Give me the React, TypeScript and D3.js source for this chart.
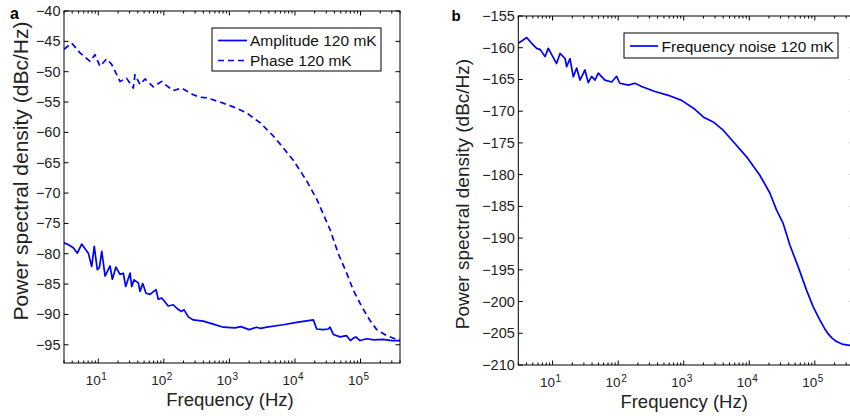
import React from "react";
import * as d3 from "d3";

// ---------- data ----------
const ampFreq = [3, 3.49, 4.16, 4.79, 5.58, 7.05, 7.94, 8.69, 9.66, 10.4, 11.3, 12.7, 15.1, 16.4, 18.6, 21.4, 24.1, 26.2, 30.5, 32.4, 35.1, 40.8, 43.3, 47.6, 53.5, 61.5, 75.9, 82.3, 92.7, 117, 139, 166, 187, 203, 236, 281, 400, 568, 807, 1217, 1500, 2000, 2600, 3000, 3707, 6637, 10620, 19050, 21460, 27040, 32240, 34230, 38460, 48650, 61480, 70000, 77640, 85000, 98150, 124200, 160000, 222300, 300000, 400000];
const ampDb = [-78.2, -78.5, -79.0, -79.9, -78.4, -79.9, -82.1, -78.8, -82.6, -82.3, -79.6, -83.7, -82.0, -84.2, -82.2, -83.4, -83.2, -85.4, -83.2, -85.4, -84.3, -84.8, -86.2, -84.9, -86.5, -86.7, -85.9, -87.5, -87.3, -88.6, -88.4, -89.2, -89.5, -89.2, -90.4, -90.9, -91.1, -91.6, -92.1, -92.2, -92.0, -92.5, -92.1, -92.3, -92.1, -91.7, -91.3, -90.9, -92.4, -92.5, -92.4, -92.1, -93.3, -93.7, -93.5, -94.3, -93.9, -93.7, -94.3, -94.0, -94.2, -94.1, -94.3, -94.3];

const phaseFreq = [3, 3.93, 5.26, 7.48, 8.91, 10.6, 13.4, 16.0, 18.0, 21.4, 27.1, 30.5, 34.2, 36.3, 43.3, 51.6, 69.1, 92.7, 110, 139, 187, 281, 356, 451, 719, 1147, 1836, 2931, 3707, 4670, 5905, 9436, 15100, 21460, 34230, 45810, 61480, 77640, 104200, 139400, 176500, 250700, 335500, 400000];
const phaseDb = [-46.3, -45.3, -46.9, -48.3, -47.2, -49.1, -47.9, -48.8, -49.9, -51.6, -51.1, -51.9, -52.7, -50.5, -52.1, -51.2, -52.5, -51.6, -52.3, -53.1, -52.7, -53.8, -54.2, -54.3, -55.0, -55.8, -56.8, -58.4, -59.5, -60.6, -61.9, -64.6, -68.0, -71.0, -76.0, -80.0, -83.2, -86.0, -88.7, -91.0, -92.5, -93.5, -94.0, -94.1];

const freqNoiseFreq = [3, 4.03, 4.8, 5.72, 6.5, 7.66, 8.6, 9.69, 11.5, 13.0, 15.5, 16.4, 18.4, 20.7, 23.3, 26.2, 31.2, 35.0, 39.4, 44.3, 49.8, 62.9, 79.6, 94.8, 106, 143, 180, 228, 364, 581, 929, 1483, 1983, 2818, 4000, 6030, 9100, 14500, 20600, 26100, 32900, 41600, 55600, 74700, 94200, 119000, 140000, 160000, 185000, 214000, 260000, 341000, 400000];
const freqNoiseDb = [-159.3, -158.4, -159.3, -160.1, -160.3, -161.4, -160.1, -161.1, -162.5, -160.9, -161.7, -163.0, -161.7, -164.6, -163.2, -165.1, -163.5, -165.5, -164.5, -165.1, -164.0, -165.1, -165.4, -164.5, -165.6, -165.9, -165.6, -166.1, -166.9, -167.5, -168.3, -169.7, -170.9, -171.7, -173.0, -175.1, -177.2, -180.1, -182.9, -185.6, -187.7, -191.1, -194.5, -198.2, -200.8, -202.9, -204.2, -205.1, -205.8, -206.3, -206.7, -206.9, -207.0];

const xDomain = [3, 4e5];
const xMajorTicks = [10, 100, 1000, 10000, 100000];
const xTickExponents = ["1", "2", "3", "4", "5"];
const yDomainA = [-98, -40];
const yTicksA = [-95, -90, -85, -80, -75, -70, -65, -60, -55, -50, -45, -40];
const yDomainB = [-210, -155];
const yTicksB = [-210, -205, -200, -195, -190, -185, -180, -175, -170, -165, -160, -155];

const legendA = ["Amplitude 120 mK", "Phase 120 mK"];
const legendB = ["Frequency noise 120 mK"];
const xLabel = "Frequency (Hz)";
const yLabel = "Power spectral density (dBc/Hz)";

const FONT = "'Liberation Sans', Arial, Helvetica, sans-serif";
const BLUE = "#0000ff";

type Series = { f: number[]; v: number[]; dash?: string };

function minorTicks(): number[] {
  const out: number[] = [];
  for (let d = 0; d <= 5; d++) {
    for (let m = 2; m <= 9; m++) {
      const v = m * Math.pow(10, d);
      if (v >= xDomain[0] && v <= xDomain[1]) out.push(v);
    }
  }
  return out;
}

function Panel(props: {
  id: string;
  x0: number; x1: number; y0: number; y1: number;
  yDomain: number[]; yTicks: number[];
  series: Series[];
  legend: string[];
  legendBox: { x: number; y: number; w: number; h: number; rowY: number[]; lx0: number; lx1: number; tx: number };
  letter: string; letterX: number; letterY: number; letterSize: number;
  ylabX: number; ylabY: number; ylabSize: number;
  xlabY: number;
}) {
  const p = props;
  const xs = d3.scaleLog().domain(xDomain).range([p.x0, p.x1]);
  const ys = d3.scaleLinear().domain(p.yDomain).range([p.y1, p.y0]);
  const line = d3
    .line<[number, number]>()
    .x((d) => xs(d[0]))
    .y((d) => ys(d[1]));
  const majLen = 4.5;
  const minLen = 2.5;
  const minors = minorTicks().filter((v) => !xMajorTicks.includes(v));
  const clipId = "clip-" + p.id;
  return (
    <g>
      <defs>
        <clipPath id={clipId}>
          <rect x={p.x0} y={p.y0} width={p.x1 - p.x0} height={p.y1 - p.y0} />
        </clipPath>
      </defs>
      {/* curves */}
      <g clipPath={`url(#${clipId})`}>
        {p.series.map((s, i) => (
          <path
            key={i}
            d={line(s.f.map((f, k) => [f, s.v[k]] as [number, number])) || ""}
            fill="none"
            stroke={BLUE}
            strokeWidth={1.7}
            strokeDasharray={s.dash}
            strokeLinejoin="round"
          />
        ))}
      </g>
      {/* box */}
      <rect x={p.x0} y={p.y0} width={p.x1 - p.x0} height={p.y1 - p.y0} fill="none" stroke="#000" strokeWidth={1} />
      {/* x ticks */}
      {xMajorTicks.map((t, i) => {
        const x = xs(t);
        return (
          <g key={"xm" + i}>
            <line x1={x} x2={x} y1={p.y1} y2={p.y1 - majLen} stroke="#000" />
            <line x1={x} x2={x} y1={p.y0} y2={p.y0 + majLen} stroke="#000" />
            <text x={x + 2.5} y={p.y1 + 22} textAnchor="end" fontFamily={FONT} fontSize={13.5} fill="#222">10</text>
            <text x={x + 3} y={p.y1 + 16.5} textAnchor="start" fontFamily={FONT} fontSize={10} fill="#222">{xTickExponents[i]}</text>
          </g>
        );
      })}
      {minors.map((t, i) => {
        const x = xs(t);
        return (
          <g key={"xn" + i}>
            <line x1={x} x2={x} y1={p.y1} y2={p.y1 - minLen} stroke="#000" />
            <line x1={x} x2={x} y1={p.y0} y2={p.y0 + minLen} stroke="#000" />
          </g>
        );
      })}
      {/* y ticks */}
      {p.yTicks.map((t, i) => {
        const y = ys(t);
        return (
          <g key={"y" + i}>
            <line x1={p.x0} x2={p.x0 + majLen} y1={y} y2={y} stroke="#000" />
            <line x1={p.x1} x2={p.x1 - majLen} y1={y} y2={y} stroke="#000" />
            <text x={p.x0 - 3.5} y={y + 5} textAnchor="end" fontFamily={FONT} fontSize={14.5} fill="#222">
              {"\u2212" + Math.abs(t)}
            </text>
          </g>
        );
      })}
      {/* axis labels */}
      <text x={(p.x0 + Math.min(p.x1, 850 + 4)) / 2 - 2} y={p.xlabY} textAnchor="middle" fontFamily={FONT} fontSize={18.5} fill="#222">
        {xLabel}
      </text>
      <text
        transform={`translate(${p.ylabX},${p.ylabY}) rotate(-90)`}
        textAnchor="middle"
        fontFamily={FONT}
        fontSize={p.ylabSize}
        fill="#222"
      >
        {yLabel}
      </text>
      <text x={p.letterX} y={p.letterY} fontFamily={FONT} fontWeight="bold" fontSize={p.letterSize} fill="#000">
        {p.letter}
      </text>
      {/* legend */}
      <rect x={p.legendBox.x} y={p.legendBox.y} width={p.legendBox.w} height={p.legendBox.h} fill="#fff" stroke="#000" strokeWidth={1} />
      {p.legend.map((name, i) => (
        <g key={"lg" + i}>
          <line
            x1={p.legendBox.lx0}
            x2={p.legendBox.lx1}
            y1={p.legendBox.rowY[i]}
            y2={p.legendBox.rowY[i]}
            stroke={BLUE}
            strokeWidth={1.7}
            strokeDasharray={p.series[i].dash}
          />
          <text x={p.legendBox.tx} y={p.legendBox.rowY[i] + 5.5} fontFamily={FONT} fontSize={15.5} fill="#111">
            {name}
          </text>
        </g>
      ))}
    </g>
  );
}

export default function App() {
  return (
    <svg
      width={850}
      height={416}
      viewBox="0 0 850 416"
      style={{ position: "absolute", left: 0, top: 0, background: "#fff", overflow: "hidden" }}
    >
      <rect x={0} y={0} width={850} height={416} fill="#fff" />
      <Panel
        id="a"
        x0={64}
        x1={400}
        y0={11}
        y1={363}
        yDomain={yDomainA}
        yTicks={yTicksA}
        series={[
          { f: ampFreq, v: ampDb },
          { f: phaseFreq, v: phaseDb, dash: "6,4" },
        ]}
        legend={legendA}
        legendBox={{ x: 212, y: 28, w: 169, h: 43, rowY: [40.5, 60.5], lx0: 218, lx1: 247, tx: 250 }}
        letter="a"
        letterX={10}
        letterY={18.5}
        letterSize={16}
        ylabX={27.5}
        ylabY={171}
        ylabSize={21}
        xlabY={406}
      />
      <Panel
        id="b"
        x0={518.3}
        x1={854.3}
        y0={16}
        y1={365}
        yDomain={yDomainB}
        yTicks={yTicksB}
        series={[{ f: freqNoiseFreq, v: freqNoiseDb }]}
        legend={legendB}
        legendBox={{ x: 624, y: 33, w: 214, h: 25, rowY: [46], lx0: 630, lx1: 658, tx: 661.5 }}
        letter="b"
        letterX={451.5}
        letterY={20.5}
        letterSize={15}
        ylabX={468.5}
        ylabY={194}
        ylabSize={19}
        xlabY={408}
      />
    </svg>
  );
}
